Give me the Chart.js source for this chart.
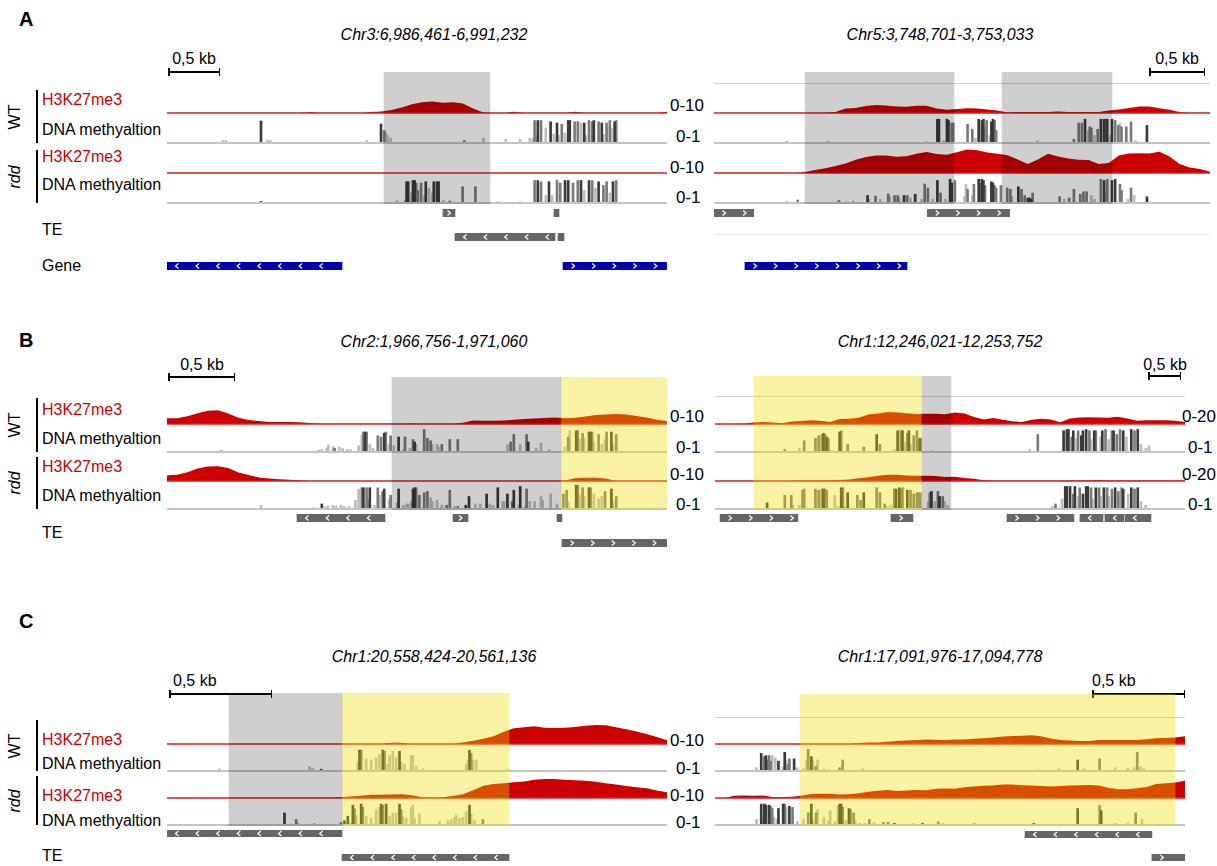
<!DOCTYPE html>
<html>
<head>
<meta charset="utf-8">
<script src="https://cdn.jsdelivr.net/npm/chart.js"></script>
<style>
  body { margin: 0; width: 1217px; height: 866px; position: relative; background: #fff; overflow: hidden;
         font-family: "Liberation Sans", Arial, sans-serif; }
  .t { position: absolute; white-space: nowrap; line-height: 1; font-size: 16px; color: #000; }
  .ln { position: absolute; background: #000; }
</style>
</head>
<body>
<script>
// ------------------------------------------------
// Data: windows, H3K27me3 signal, DNA methylation bars, TE / gene features
// Signals are sampled evenly across each window (0-10 or 0-20 scale).
// Bar and feature positions are in 1/250 steps of the window.
// Methylation bars: [position, level 0-1, context shade D/M/L]
// ------------------------------------------------
const CELLS = 250;

const A1_WINDOW = ['Chr3', 6986461, 6991232];
const A2_WINDOW = ['Chr5', 3748701, 3753033];
const B1_WINDOW = ['Chr2', 1966756, 1971060];
const B2_WINDOW = ['Chr1', 12246021, 12253752];
const C1_WINDOW = ['Chr1', 20558424, 20561136];
const C2_WINDOW = ['Chr1', 17091976, 17094778];

const A1_H3_WT  = [0,0,0,0,0,0,0,0,0,0, 0,0,0,0,0.3,0,0,0,0,0, 0.3,0.5,1.0,1.8,2.9,3.6,3.8,3.4,3.6,3.2, 1.5,0.2,0,0,0.4,0,0,0,0,0, 0.4,0,0,0,0,0,0,0,0,0.4];
const A1_H3_RDD = [0,0,0,0,0,0,0,0,0,0, 0,0,0,0,0,0,0,0,0,0, 0,0,0,0,0,0,0,0,0,0, 0,0,0,0,0,0,0,0,0,0, 0,0,0,0,0,0,0,0,0,0];
const A2_H3_WT  = [0,0,0,0,0,0,0,0,0,0, 0,0.1,0.3,1.5,1.7,2.3,2.7,2.5,2.2,2.1, 2.4,2.4,1.5,1.1,1.3,1.6,1.5,1.2,0.8,0.2, 0.3,0.3,0.3,0.3,0.5,0.3,0.3,0.3,0.3,0.8, 1.2,1.7,2.2,2.2,1.6,1.1,0.3,0,0,0];
const A2_H3_RDD = [0,0,0,0,0,0,0,0,0,0.3, 1.0,1.6,2.3,3.2,4.4,5.3,5.8,5.8,5.4,5.6, 6.4,7.0,6.3,6.1,6.9,7.8,7.6,6.8,6.4,5.9, 4.5,3.0,4.5,6.4,5.5,4.8,4.4,4.3,3.0,3.3, 5.8,6.5,6.6,6.5,7.1,5.5,3.0,1.8,1.3,0.4];
const B1_H3_WT  = [1.9,1.9,2.6,3.6,4.4,4.6,3.5,2.1,1.3,1.0, 0.7,0.7,0.7,0.6,0.3,0.1,0.1,0.1,0.1,0.1, 0.1,0.1,0.1,0.1,0.2,0.1,0.1,0.1,0.1,0.4, 1.2,1.1,1.1,1.2,1.4,1.7,1.8,2.0,2.2,1.9, 2.1,2.5,3.0,3.2,3.3,3.2,2.7,2.2,1.4,1.0];
const B1_H3_RDD = [1.9,2.1,2.9,4.2,4.8,4.9,4.3,2.8,2.0,1.2, 0.8,0.6,0.4,0.2,0,0,0,0,0,0, 0,0,0,0,0,0,0,0,0,0, 0,0,0,0,0,0,0,0,0,0.2, 0.9,1.1,1.1,0.8,0,0,0,0,0,0];
const B2_H3_WT  = [0,0,0,0.2,1.0,1.5,1.0,0.6,1.8,2.2, 2.7,2.4,1.4,3.5,3.8,4.5,6.8,7.5,8.5,8.3, 7.7,7.1,7.4,7.3,6.9,8.2,7.5,5.0,3.3,4.2, 3.0,2.0,1.5,3.1,3.8,3.3,1.2,4.0,4.6,4.9, 4.6,4.4,5.2,4.0,2.4,2.6,2.7,2.7,2.3,1.5];
const B2_H3_RDD = [0,0,0,0,0,0,0,0,0,0.4, 0.3,0.1,0.6,0.7,1.0,2.0,2.7,3.8,4.4,4.4, 4.0,3.8,3.8,3.5,2.9,3.0,2.2,1.6,0.5,0.2, 0.2,0.2,0.2,0.2,0.2,0.2,0.2,0.4,0.4,0.5, 0.8,0.3,0.3,0.3,0.3,0.3,0.3,0.3,0.3,0.3];
const C1_H3_WT  = [0,0,0,0,0,0,0,0,0,0, 0,0,0,0,0,0,0,0,0,0, 0,0,0.5,0.5,0,0,0,0,0,0.6, 1.2,1.9,2.9,4.5,5.8,6.2,6.6,6.0,5.9,6.0, 6.3,6.8,7.0,6.9,6.2,5.5,4.6,3.7,2.6,1.4];
const C1_H3_RDD = [0,0,0,0,0,0,0,0,0,0, 0,0,0,0,0,0,0,0.3,0.6,0.8, 1.2,1.2,1.3,1.4,1.0,0.3,0.1,0.3,0.7,1.4, 2.9,4.5,5.2,5.5,5.8,6.1,6.8,7.0,7.0,6.8, 6.6,6.4,6.0,5.5,5.0,4.4,4.0,3.6,2.8,2.1];
const C2_H3_WT  = [0,0,0,0,0,0,0,0,0,0, 0,0,0,0,0,0.4,0.6,0.6,0.8,1.1, 1.3,1.5,1.7,1.6,1.5,1.7,1.7,1.9,2.1,2.4, 2.8,3.0,3.1,3.2,2.9,2.0,1.5,1.3,1.1,1.1, 1.5,1.5,1.5,1.5,1.5,1.8,2.1,2.2,2.4,2.9];
const C2_H3_RDD = [0,0,0.8,0.9,0.8,0.9,0.4,0.4,0.5,0.8, 1.5,1.6,1.6,1.3,1.4,1.8,2.3,2.7,3.0,2.6, 2.8,3.0,2.9,3.4,3.5,3.4,4.0,4.3,4.5,4.6, 5.0,5.0,4.7,4.6,4.4,4.3,4.4,4.6,4.7,4.8, 4.6,3.8,3.2,3.2,3.6,4.1,5.2,5.5,5.7,6.4];

const A1_ME_WT = [[3,0.1,'L'],[5,0.1,'L'],[27,0.88,'D'],[31,0.12,'L'],[33,0.1,'L'],[93,0.1,'L'],
  [102,0.76,'D'],[104,0.5,'M'],[105,0.4,'L'],[106,0.3,'L'],[108,0.2,'L'],
  [154,0.1,'M'],[166,0.2,'L'],[180,0.15,'L'],[189,0.15,'L'],[195,0.2,'L'],[197,0.2,'L'],
  [198,0.9,'M'],[199,0.3,'L'],[200,0.9,'D'],[202,0.9,'M'],[205,0.6,'L'],[208,0.85,'D'],[210,0.35,'L'],[212,0.8,'D'],
  [213,0.3,'L'],[215,0.75,'M'],[217,0.4,'L'],[219,0.9,'D'],[220,0.9,'D'],[223,0.85,'M'],[225,0.85,'M'],[227,0.8,'L'],
  [229,0.8,'D'],[230,0.3,'L'],[232,0.9,'M'],[234,0.85,'M'],[235,0.9,'D'],[238,0.85,'M'],[240,0.8,'D'],[241,0.35,'L'],
  [243,0.8,'M'],[245,0.9,'M'],[246,0.6,'L'],[248,0.85,'D'],[249,0.9,'M']];
const A1_ME_RDD = [[27,0.06,'D'],[112,0.1,'L'],[117,0.12,'L'],[118,0.85,'D'],[119,0.85,'D'],[121,0.4,'L'],[122,0.9,'D'],
  [123,0.9,'D'],[124,0.8,'M'],[125,0.5,'M'],[127,0.8,'M'],[129,0.3,'L'],[130,0.85,'D'],[132,0.6,'L'],[134,0.4,'L'],
  [135,0.85,'D'],[137,0.85,'D'],[138,0.85,'D'],[141,0.1,'L'],[145,0.08,'M'],[153,0.65,'M'],[161,0.65,'M'],[175,0.06,'L'],
  [189,0.05,'L'],[198,0.9,'M'],[200,0.9,'D'],[202,0.85,'M'],[205,0.3,'L'],[207,0.85,'D'],[209,0.3,'L'],[212,0.9,'M'],
  [214,0.8,'M'],[217,0.9,'D'],[219,0.9,'D'],[222,0.8,'M'],[225,0.9,'M'],[227,0.9,'D'],[229,0.5,'L'],[232,0.9,'D'],
  [234,0.9,'M'],[236,0.6,'L'],[238,0.85,'D'],[241,0.7,'M'],[243,0.85,'M'],[245,0.4,'L'],[247,0.85,'D'],[249,0.9,'M']];
const A2_ME_WT = [[14,0.05,'M'],[40,0.05,'M'],[102,0.05,'L'],[109,0.95,'D'],[110,0.95,'D'],[113,0.1,'L'],[115,0.95,'D'],
  [116,0.9,'D'],[118,0.8,'M'],[119,0.8,'M'],[128,0.75,'M'],[131,0.55,'M'],[133,0.2,'L'],[135,0.95,'D'],[137,0.9,'D'],
  [138,0.95,'D'],[139,0.6,'L'],[140,0.9,'M'],[142,0.3,'L'],[143,0.85,'D'],[144,0.95,'D'],[145,0.9,'M'],[146,0.5,'M'],
  [172,0.08,'L'],[195,0.15,'M'],[198,0.8,'M'],[200,0.8,'M'],[202,0.95,'D'],[204,0.5,'L'],[205,0.65,'M'],[206,0.6,'M'],
  [208,0.3,'L'],[210,0.55,'M'],[212,0.95,'D'],[214,0.95,'D'],[215,0.95,'M'],[216,0.95,'D'],[218,0.3,'L'],[219,0.95,'D'],
  [221,0.9,'M'],[223,0.7,'M'],[224,0.8,'L'],[225,0.65,'M'],[228,0.65,'M'],[231,0.85,'M'],[234,0.1,'L'],[241,0.7,'D']];
const A2_ME_RDD = [[14,0.05,'M'],[21,0.12,'M'],[47,0.1,'M'],[52,0.05,'L'],[56,0.08,'L'],[65,0.3,'D'],[66,0.15,'L'],
  [70,0.28,'M'],[73,0.15,'L'],[78,0.36,'M'],[79,0.25,'L'],[82,0.3,'M'],[84,0.3,'M'],[85,0.2,'L'],[88,0.3,'D'],[90,0.3,'M'],
  [92,0.2,'L'],[95,0.35,'D'],[99,0.15,'L'],[101,0.76,'M'],[103,0.6,'M'],[106,0.15,'L'],[109,0.9,'D'],[111,0.4,'M'],
  [114,0.15,'L'],[117,0.95,'D'],[118,0.8,'D'],[120,0.9,'M'],[126,0.25,'L'],[127,0.75,'L'],[128,0.55,'M'],[131,0.3,'L'],
  [132,0.75,'M'],[135,0.95,'D'],[136,0.8,'M'],[137,0.95,'D'],[138,0.9,'D'],[139,0.7,'M'],[143,0.85,'D'],[144,0.8,'D'],
  [145,0.7,'M'],[146,0.6,'M'],[149,0.7,'M'],[153,0.6,'M'],[155,0.55,'M'],[156,0.25,'L'],[160,0.65,'D'],[162,0.55,'M'],
  [164,0.3,'M'],[166,0.2,'D'],[167,0.2,'D'],[168,0.15,'D'],[169,0.4,'M'],[186,0.25,'M'],[189,0.15,'L'],[192,0.2,'M'],
  [195,0.55,'M'],[199,0.35,'M'],[201,0.45,'M'],[203,0.45,'M'],[206,0.3,'L'],[208,0.15,'L'],[212,0.95,'M'],[214,0.9,'D'],
  [215,0.4,'L'],[216,0.95,'M'],[219,0.9,'D'],[221,0.95,'D'],[224,0.75,'M'],[225,0.5,'M'],[229,0.15,'L'],[231,0.6,'M'],
  [233,0.3,'L'],[241,0.25,'D']];
const B1_ME_WT = [[2,0.07,'L'],[63,0.05,'M'],[65,0.1,'L'],[68,0.15,'L'],[69,0.28,'L'],[72,0.2,'L'],[73,0.15,'M'],[76,0.2,'L'],
  [78,0.15,'L'],[81,0.1,'L'],[83,0.1,'L'],[88,0.25,'L'],[90,0.68,'L'],[91,0.8,'M'],[92,0.8,'D'],[93,0.8,'M'],[95,0.3,'L'],
  [97,0.15,'L'],[100,0.65,'M'],[102,0.6,'M'],[104,0.75,'D'],[105,0.8,'M'],[107,0.3,'L'],[108,0.65,'M'],[110,0.25,'L'],
  [113,0.6,'D'],[116,0.1,'L'],[117,0.6,'M'],[120,0.15,'L'],[122,0.5,'M'],[123,0.4,'D'],[124,0.3,'L'],[129,0.9,'M'],
  [131,0.55,'M'],[133,0.45,'M'],[134,0.3,'L'],[137,0.3,'L'],[138,0.2,'L'],[140,0.3,'M'],[145,0.5,'M'],[150,0.5,'M'],
  [181,0.3,'L'],[183,0.4,'M'],[185,0.7,'M'],[189,0.3,'L'],[193,0.7,'M'],[194,0.4,'D'],[199,0.15,'L'],[202,0.35,'L'],
  [207,0.1,'L'],[217,0.2,'L'],[219,0.6,'M'],[220,0.85,'L'],[224,0.85,'D'],[225,0.85,'M'],[226,0.5,'L'],[228,0.75,'M'],
  [229,0.55,'L'],[232,0.8,'D'],[233,0.8,'D'],[234,0.8,'M'],[235,0.4,'L'],[238,0.7,'M'],[240,0.3,'L'],[242,0.5,'L'],
  [243,0.8,'M'],[246,0.8,'D'],[247,0.3,'L'],[249,0.7,'M']];
const B1_ME_RDD = [[27,0.15,'L'],[60,0.05,'L'],[65,0.2,'D'],[67,0.1,'L'],[69,0.12,'L'],[72,0.15,'L'],[74,0.12,'L'],[77,0.15,'L'],
  [79,0.1,'L'],[82,0.1,'L'],[86,0.35,'L'],[88,0.8,'L'],[90,0.85,'M'],[91,0.85,'D'],[93,0.85,'M'],[94,0.4,'L'],[95,0.85,'D'],
  [98,0.15,'L'],[100,0.85,'M'],[101,0.55,'L'],[103,0.7,'M'],[104,0.8,'D'],[107,0.4,'L'],[108,0.55,'M'],[112,0.25,'L'],
  [113,0.8,'D'],[116,0.15,'L'],[118,0.2,'L'],[119,0.2,'L'],[121,0.3,'L'],[122,0.8,'D'],[123,0.85,'D'],[124,0.85,'M'],
  [126,0.55,'M'],[129,0.65,'M'],[131,0.7,'M'],[133,0.45,'L'],[134,0.3,'L'],[137,0.35,'L'],[140,0.15,'L'],[143,0.15,'M'],
  [145,0.75,'M'],[148,0.1,'L'],[150,0.1,'M'],[155,0.15,'D'],[157,0.5,'D'],[161,0.2,'L'],[164,0.2,'L'],[168,0.6,'D'],
  [170,0.2,'L'],[172,0.15,'L'],[175,0.85,'D'],[178,0.3,'L'],[179,0.3,'L'],[181,0.6,'D'],[184,0.3,'M'],[185,0.75,'D'],
  [188,0.15,'L'],[189,0.9,'D'],[192,0.1,'L'],[193,0.8,'M'],[195,0.3,'L'],[198,0.3,'L'],[202,0.5,'L'],[203,0.35,'L'],
  [208,0.6,'L'],[212,0.2,'L'],[216,0.6,'M'],[218,0.75,'M'],[219,0.3,'L'],[224,0.95,'D'],[225,0.95,'M'],[226,0.55,'L'],
  [228,0.85,'M'],[229,0.5,'L'],[232,0.85,'D'],[233,0.85,'M'],[235,0.6,'L'],[238,0.4,'L'],[240,0.5,'L'],[242,0.7,'M'],
  [246,0.8,'D'],[247,0.3,'L'],[249,0.5,'M']];
const B2_ME_WT = [[22,0.1,'M'],[31,0.15,'L'],[34,0.45,'M'],[41,0.55,'M'],[43,0.65,'M'],[45,0.7,'M'],[46,0.75,'D'],[47,0.7,'M'],
  [48,0.6,'D'],[49,0.55,'M'],[51,0.05,'L'],[56,0.8,'D'],[57,0.85,'M'],[61,0.3,'M'],[71,0.2,'M'],[79,0.7,'D'],[81,0.3,'M'],
  [90,0.1,'L'],[92,0.85,'D'],[94,0.85,'M'],[95,0.85,'D'],[96,0.3,'L'],[97,0.4,'L'],[98,0.75,'M'],[99,0.85,'D'],[100,0.3,'L'],
  [102,0.65,'M'],[104,0.85,'M'],[105,0.5,'M'],[106,0.55,'D'],[113,0.05,'L'],[174,0.1,'L'],[179,0.7,'M'],[195,0.85,'D'],
  [197,0.9,'D'],[198,0.9,'D'],[200,0.6,'M'],[201,0.85,'D'],[203,0.55,'L'],[204,0.85,'M'],[206,0.65,'D'],[207,0.85,'D'],
  [209,0.9,'D'],[211,0.85,'M'],[212,0.5,'L'],[214,0.85,'D'],[215,0.85,'M'],[218,0.6,'L'],[219,0.85,'D'],[221,0.9,'M'],
  [223,0.5,'L'],[225,0.85,'M'],[226,0.85,'D'],[228,0.7,'M'],[230,0.9,'M'],[232,0.85,'D'],[234,0.6,'L'],[237,0.9,'D'],
  [239,0.85,'M'],[241,0.9,'D'],[243,0.3,'L'],[246,0.15,'L'],[248,0.25,'L']];
const B2_ME_RDD = [[11,0.25,'D'],[22,0.55,'M'],[26,0.55,'M'],[27,0.15,'L'],[31,0.15,'L'],[33,0.75,'M'],[34,0.8,'M'],[41,0.8,'M'],
  [43,0.75,'M'],[45,0.8,'M'],[46,0.8,'D'],[47,0.8,'M'],[48,0.75,'M'],[53,0.55,'L'],[55,0.1,'L'],[57,0.85,'D'],[58,0.85,'M'],
  [59,0.1,'L'],[61,0.65,'D'],[67,0.55,'M'],[69,0.35,'M'],[71,0.65,'D'],[79,0.85,'M'],[81,0.65,'M'],[84,0.2,'M'],[86,0.1,'L'],
  [88,0.15,'L'],[90,0.8,'M'],[91,0.8,'D'],[93,0.85,'D'],[94,0.8,'M'],[95,0.85,'M'],[98,0.75,'D'],[100,0.75,'M'],[102,0.6,'M'],
  [104,0.65,'M'],[105,0.65,'M'],[106,0.65,'M'],[111,0.3,'L'],[112,0.65,'M'],[113,0.7,'D'],[115,0.3,'L'],[117,0.7,'M'],
  [118,0.5,'D'],[120,0.5,'M'],[121,0.3,'L'],[123,0.15,'L'],[188,0.1,'L'],[190,0.2,'M'],[194,0.4,'L'],[196,0.9,'D'],
  [197,0.9,'D'],[199,0.9,'D'],[201,0.6,'M'],[202,0.9,'D'],[204,0.5,'L'],[205,0.85,'M'],[207,0.6,'D'],[209,0.9,'D'],
  [210,0.9,'D'],[212,0.85,'M'],[213,0.4,'L'],[215,0.85,'D'],[217,0.85,'M'],[218,0.5,'L'],[220,0.85,'D'],[222,0.85,'M'],
  [223,0.5,'L'],[225,0.8,'M'],[227,0.85,'D'],[229,0.7,'M'],[231,0.85,'M'],[232,0.8,'D'],[235,0.6,'L'],[237,0.85,'D'],
  [239,0.8,'M'],[241,0.85,'D'],[243,0.3,'L'],[246,0.15,'L']];
const C1_ME_WT = [[6,0.1,'L'],[60,0.2,'L'],[62,0.12,'L'],[67,0.08,'D'],[89,0.4,'L'],[90,0.95,'D'],[91,0.95,'M'],[94,0.55,'L'],
  [97,0.5,'L'],[100,0.6,'L'],[102,0.75,'L'],[104,0.95,'D'],[105,0.9,'M'],[107,0.3,'L'],[108,0.7,'L'],[110,0.9,'L'],
  [112,0.6,'L'],[114,0.9,'D'],[115,0.4,'L'],[117,0.3,'L'],[121,0.7,'L'],[122,0.7,'L'],[124,0.2,'L'],[128,0.1,'L'],
  [154,0.3,'L'],[155,0.5,'L'],[156,0.95,'D'],[157,0.8,'M'],[158,0.5,'L'],[160,0.5,'L'],[179,0.05,'M']];
const C1_ME_RDD = [[45,0.55,'D'],[52,0.25,'M'],[53,0.1,'L'],[63,0.05,'M'],[78,0.05,'L'],[79,0.12,'M'],[81,0.2,'D'],[83,0.4,'D'],
  [85,0.1,'L'],[86,0.9,'D'],[87,0.75,'M'],[88,0.45,'L'],[91,0.95,'D'],[92,0.8,'M'],[94,0.4,'L'],[97,0.3,'L'],[100,0.7,'L'],
  [102,0.8,'L'],[103,0.95,'D'],[104,0.9,'M'],[106,0.95,'D'],[108,0.4,'L'],[110,0.55,'L'],[112,0.55,'L'],[114,0.95,'D'],
  [115,0.7,'M'],[116,0.4,'L'],[118,0.3,'L'],[121,0.8,'L'],[122,0.9,'L'],[123,0.3,'L'],[126,0.5,'L'],[138,0.15,'L'],
  [143,0.2,'L'],[145,0.25,'L'],[147,0.35,'L'],[148,0.45,'L'],[150,0.3,'L'],[152,0.35,'L'],[154,0.6,'L'],[156,0.9,'D'],
  [157,0.5,'L'],[159,0.2,'L'],[164,0.25,'M'],[175,0.03,'M']];
const C2_ME_WT = [[1,0.15,'L'],[4,0.8,'D'],[5,0.15,'L'],[6,0.65,'M'],[7,0.7,'D'],[8,0.5,'M'],[9,0.7,'M'],[10,0.45,'M'],
  [11,0.7,'L'],[13,0.6,'L'],[15,0.45,'D'],[18,0.2,'L'],[19,0.85,'D'],[20,0.5,'L'],[21,0.3,'M'],[22,0.55,'M'],[25,0.55,'D'],
  [27,0.15,'L'],[31,0.1,'L'],[33,0.5,'L'],[34,1.0,'M'],[36,0.65,'D'],[37,0.5,'L'],[38,0.2,'L'],[39,0.2,'M'],[40,0.5,'L'],
  [44,0.08,'L'],[47,0.05,'L'],[54,0.15,'M'],[56,0.5,'M'],[69,0.1,'L'],[181,0.05,'L'],[194,0.1,'L'],[206,0.5,'D'],
  [210,0.1,'L'],[220,0.55,'M'],[230,0.15,'L'],[238,0.12,'L'],[242,0.15,'L'],[244,0.85,'M'],[246,0.2,'L'],[248,0.1,'L']];
const C2_ME_RDD = [[1,0.25,'L'],[4,0.95,'D'],[5,0.3,'L'],[6,0.95,'D'],[7,0.9,'D'],[9,0.9,'D'],[10,0.85,'M'],[11,0.75,'M'],
  [12,0.35,'L'],[14,0.25,'L'],[15,0.75,'D'],[18,0.95,'D'],[19,0.95,'M'],[20,0.8,'L'],[22,0.85,'D'],[24,0.8,'M'],[27,0.15,'L'],
  [31,0.25,'L'],[34,0.55,'M'],[36,0.95,'D'],[37,0.2,'L'],[39,0.55,'M'],[40,0.7,'L'],[44,0.35,'L'],[47,0.2,'L'],[48,0.65,'L'],
  [51,0.15,'L'],[53,0.85,'L'],[54,0.95,'D'],[55,0.95,'D'],[56,0.8,'M'],[58,0.2,'L'],[60,0.75,'D'],[61,0.7,'M'],[63,0.55,'M'],
  [64,0.2,'L'],[67,0.08,'L'],[70,0.08,'L'],[73,0.25,'M'],[76,0.12,'L'],[82,0.12,'M'],[85,0.12,'M'],[89,0.08,'D'],
  [101,0.05,'M'],[107,0.08,'D'],[117,0.15,'M'],[120,0.08,'L'],[140,0.05,'D'],[178,0.08,'D'],[206,0.75,'D'],[220,0.9,'M'],
  [221,0.65,'D'],[230,0.08,'L'],[238,0.08,'L'],[243,0.55,'M'],[247,0.25,'L']];

// features: [start, end, strand]
const A1_TE1  = [[138,144,'>'],[193.5,196,'']];
const A1_TE2  = [[144,194,'<'],[195.5,198.5,'']];
const A1_GENE = [[0,87.5,'<'],[198,250,'>']];
const A2_TE1  = [[0,20,'>'],[107.5,149,'>']];
const A2_GENE = [[15.6,97.3,'>']];
const B1_TE1  = [[65,109,'<'],[143,150.5,'>'],[195,197.5,'']];
const B1_TE2  = [[197.5,250,'>']];
const B2_TE1  = [[2.7,44.1,'>'],[93.6,105.3,'>'],[155.3,190.9,'>'],[194.1,206.4,'<'],[207.4,217.5,'<'],[218.1,231.9,'<']];
const C1_TE1  = [[0,87.5,'<']];
const C1_TE2  = [[87.5,171,'<']];
const C2_TE1  = [[164.9,232.4,'<']];
const C2_TE2  = [[232.4,250,'>']];

// highlighted regions: [start, end, kind]
const A1_SHADE = [[108.5,161.5,'gray']];
const A2_SHADE = [[45.9,121,'gray'],[145.2,200.6,'gray']];
const B1_SHADE = [[112.5,197,'gray'],[197,250,'yellow']];
const B2_SHADE = [[20.7,109.6,'yellow'],[110.1,125.5,'gray']];
const C1_SHADE = [[31,87.5,'gray'],[87.5,171,'yellow']];
const C2_SHADE = [[45.2,244.7,'yellow']];

// ------------------------------------------------
// Plugins
// ------------------------------------------------
const trackLines = {
    id: 'trackLines',
    afterDatasetsDraw(chart, args, opts) {
        const { ctx, chartArea } = chart;
        ctx.save();
        if (opts.top) {
            ctx.strokeStyle = opts.top; ctx.lineWidth = 1;
            ctx.beginPath(); ctx.moveTo(chartArea.left, chartArea.top + 0.5); ctx.lineTo(chartArea.right, chartArea.top + 0.5); ctx.stroke();
        }
        if (opts.base) {
            const py = chart.scales.y.getPixelForValue(0);
            ctx.strokeStyle = opts.base; ctx.lineWidth = opts.baseWidth || 1;
            ctx.beginPath(); ctx.moveTo(chartArea.left, py); ctx.lineTo(chartArea.right, py); ctx.stroke();
        }
        ctx.restore();
    }
};

const chevrons = {
    id: 'chevrons',
    afterDatasetsDraw(chart) {
        const ctx = chart.ctx;
        chart.data.datasets.forEach((ds, i) => {
            if (!ds.strand) return;
            const el = chart.getDatasetMeta(i).data[0];
            const x0 = Math.min(el.x, el.base), x1 = Math.max(el.x, el.base);
            const d = ds.strand === '>' ? 1 : -1;
            const xs = [];
            if (x1 - x0 < 18) xs.push((x0 + x1) / 2);
            else for (let x = x0 + 10; x < x1 - 4; x += 20.6) xs.push(x);
            ctx.save();
            ctx.strokeStyle = '#fff'; ctx.lineWidth = 1.2;
            xs.forEach(x => {
                ctx.beginPath();
                ctx.moveTo(x - 1.5 * d, el.y - 2.5);
                ctx.lineTo(x + 1.5 * d, el.y);
                ctx.lineTo(x - 1.5 * d, el.y + 2.5);
                ctx.stroke();
            });
            ctx.restore();
        });
    }
};
Chart.register(trackLines, chevrons);

// ------------------------------------------------
// Helpers
// ------------------------------------------------
function addCanvas(left, top, w, h, z) {
    const c = document.createElement('canvas');
    c.width = w; c.height = h;
    c.style.cssText = `position:absolute;left:${left}px;top:${top}px;width:${w}px;height:${h}px;z-index:${z || 1}`;
    document.body.appendChild(c);
    return c;
}

function addText(txt, x, y, css, align) {
    const d = document.createElement('div');
    d.className = 't';
    d.textContent = txt;
    const tx = align === 'center' ? '-50%' : (align === 'right' ? '-100%' : '0');
    d.style.cssText = `left:${x}px;top:${y}px;transform:translate(${tx},-50%);` + (css || '');
    document.body.appendChild(d);
    return d;
}

function addLine(x, y, w, h, color) {
    const d = document.createElement('div');
    d.className = 'ln';
    d.style.cssText = `left:${x}px;top:${y}px;width:${w}px;height:${h}px;` + (color ? `background:${color};` : '');
    document.body.appendChild(d);
}

const pos = (win, cell) => win[1] + cell * (win[2] - win[1]) / CELLS;

function baseOptions(win, yMax, lines) {
    return {
        responsive: false, animation: false, events: [],
        layout: { padding: 0 },
        plugins: { legend: { display: false }, tooltip: { enabled: false }, trackLines: lines || {} },
        scales: {
            x: { type: 'linear', min: win[1], max: win[2], display: false },
            y: { min: 0, max: yMax, display: false }
        }
    };
}

function signalTrack(p, top, h, values, topLine) {
    const win = p.win, len = win[2] - win[1];
    const c = addCanvas(p.left, top, p.width, h + 2);
    const opts = baseOptions(win, p.h3Max, { base: '#dc1c1c', baseWidth: 1.6, top: topLine ? '#d2d2d2' : null });
    opts.layout.padding = { bottom: 2 };
    new Chart(c, {
        type: 'line',
        data: { datasets: [{
            data: values.map((v, i) => ({ x: win[1] + i * len / (values.length - 1), y: v })),
            fill: 'origin', backgroundColor: '#cc0000', borderWidth: 0, pointRadius: 0, tension: 0
        }] },
        options: opts
    });
}

function methTrack(p, top, h, bars) {
    const shades = { D: '#3a3a3a', M: '#7a7a7a', L: '#bdbdbd' };
    const c = addCanvas(p.left, top, p.width, h + 2);
    const opts = baseOptions(p.win, 1, { base: '#c4c4c4', baseWidth: 2 });
    opts.layout.padding = { bottom: 2 };
    new Chart(c, {
        type: 'bar',
        data: { datasets: ['D', 'M', 'L'].map(s => ({
            data: bars.filter(b => b[2] === s).map(b => ({ x: pos(p.win, b[0] + 0.5), y: b[1] })),
            backgroundColor: shades[s], barThickness: 2, grouped: false
        })) },
        options: opts
    });
}

function featureTrack(p, top, h, feats, color) {
    const c = addCanvas(p.left, top, p.width, h);
    const opts = baseOptions(p.win, 1);
    opts.indexAxis = 'y';
    opts.scales.y = { display: false };
    new Chart(c, {
        type: 'bar',
        data: { labels: ['row'], datasets: feats.map(f => ({
            data: [[pos(p.win, f[0]), pos(p.win, f[1])]],
            strand: f[2], backgroundColor: color,
            barPercentage: 1, categoryPercentage: 1, grouped: false
        })) },
        options: opts
    });
}

function shadeTrack(p, top, bottom, regions) {
    const fills = { gray: 'rgba(0,0,0,0.19)', yellow: 'rgba(240,220,0,0.36)' };
    const c = addCanvas(p.left, top, p.width, bottom - top, 5);
    const opts = baseOptions(p.win, 1);
    opts.indexAxis = 'y';
    opts.scales.y = { display: false };
    new Chart(c, {
        type: 'bar',
        data: { labels: ['hl'], datasets: regions.map(r => ({
            data: [[pos(p.win, r[0]), pos(p.win, r[1])]],
            backgroundColor: fills[r[2]], barPercentage: 1, categoryPercentage: 1, grouped: false
        })) },
        options: opts
    });
}

function scaleBar(x0, x1, y, tx, ty, align) {
    addLine(x0, y - 1, x1 - x0, 1.5);
    addLine(x0, y - 4, 1.5, 8);
    addLine(x1 - 1.5, y - 4, 1.5, 8);
    addText('0,5 kb', tx, ty, '', align);
}

// ------------------------------------------------
// Panels (layout only)
// ------------------------------------------------
const PANELS = [
    { win: A1_WINDOW, left: 167, width: 500, h3Max: 10, h3H: 30, meH: 25, rows: [83, 118, 143, 178], topLine: false,
      h3: [A1_H3_WT, A1_H3_RDD], me: [A1_ME_WT, A1_ME_RDD], featH: 8,
      feats: [[209, A1_TE1, '#666666'], [233, A1_TE2, '#666666'], [262, A1_GENE, '#0000b0']],
      shade: [72, 204, A1_SHADE], titleX: 434, titleY: 35,
      scale: [168, 220, 72, 194, 59, 'center'], ylab: [670, [105, 136, 167, 197]] },
    { win: A2_WINDOW, left: 714, width: 496, h3Max: 10, h3H: 30, meH: 25, rows: [83, 118, 143, 178], topLine: true,
      h3: [A2_H3_WT, A2_H3_RDD], me: [A2_ME_WT, A2_ME_RDD], featH: 8,
      feats: [[209, A2_TE1, '#666666'], [262, A2_GENE, '#0000b0']], sep: 234,
      shade: [72, 204, A2_SHADE], titleX: 940, titleY: 35,
      scale: [1149, 1205, 72, 1177, 59, 'center'] },
    { win: B1_WINDOW, left: 167, width: 500, h3Max: 10, h3H: 30, meH: 25, rows: [394, 427, 451, 484], topLine: false,
      h3: [B1_H3_WT, B1_H3_RDD], me: [B1_ME_WT, B1_ME_RDD], featH: 8,
      feats: [[514, B1_TE1, '#666666'], [539, B1_TE2, '#666666']],
      shade: [377, 510, B1_SHADE], titleX: 434, titleY: 342,
      scale: [168, 235, 377, 202, 365, 'center'], ylab: [670, [416, 447, 474, 504]] },
    { win: B2_WINDOW, left: 715, width: 470, h3Max: 20, h3H: 28, meH: 25, rows: [396, 427, 453, 484], topLine: true,
      h3: [B2_H3_WT, B2_H3_RDD], me: [B2_ME_WT, B2_ME_RDD], featH: 8,
      feats: [[514, B2_TE1, '#666666']],
      shade: [376, 510, B2_SHADE], titleX: 940, titleY: 342,
      scale: [1148, 1181, 376, 1165, 365, 'center'], ylab: [1182, [416, 447, 474, 504]] },
    { win: C1_WINDOW, left: 167, width: 500, h3Max: 10, h3H: 27, meH: 22, rows: [717, 749, 771, 803], topLine: false,
      h3: [C1_H3_WT, C1_H3_RDD], me: [C1_ME_WT, C1_ME_RDD], featH: 7,
      feats: [[830, C1_TE1, '#666666'], [854, C1_TE2, '#666666']],
      shade: [693, 826, C1_SHADE], titleX: 434, titleY: 657,
      scale: [169, 272, 694, 173, 681, 'left'], ylab: [670, [740, 768, 795, 822]] },
    { win: C2_WINDOW, left: 715, width: 470, h3Max: 10, h3H: 27, meH: 22, rows: [717, 749, 771, 803], topLine: true,
      h3: [C2_H3_WT, C2_H3_RDD], me: [C2_ME_WT, C2_ME_RDD], featH: 7,
      feats: [[831, C2_TE1, '#666666'], [854, C2_TE2, '#666666']],
      shade: [694, 826, C2_SHADE], titleX: 940, titleY: 657,
      scale: [1092, 1185, 694, 1092, 681, 'left'] }
];

PANELS.forEach(p => {
    signalTrack(p, p.rows[0], p.h3H, p.h3[0], p.topLine);
    methTrack(p, p.rows[1], p.meH, p.me[0]);
    signalTrack(p, p.rows[2], p.h3H, p.h3[1], false);
    methTrack(p, p.rows[3], p.meH, p.me[1]);
    p.feats.forEach(f => featureTrack(p, f[0], p.featH, f[1], f[2]));
    if (p.sep) addLine(p.left, p.sep, p.width, 1, '#e6e6e6');
    shadeTrack(p, p.shade[0], p.shade[1], p.shade[2]);

    const fmt = n => n.toLocaleString('en-US');
    addText(`${p.win[0]}:${fmt(p.win[1])}-${fmt(p.win[2])}`, p.titleX, p.titleY, 'font-style:italic;', 'center');
    const s = p.scale;
    scaleBar(s[0], s[1], s[2], s[3], s[4], s[5]);
    if (p.ylab) {
        const labs = [`0-${p.h3Max}`, '0-1', `0-${p.h3Max}`, '0-1'];
        labs.forEach((t, i) => addText(t, p.ylab[0] + (i % 2 ? 6 : 0), p.ylab[1][i], 'font-size:17px;'));
    }
});

// ------------------------------------------------
// Row labels on the left
// ------------------------------------------------
const SECTIONS = [
    { letter: 'A', letterY: 19, wt: [90, 143], rdd: [150, 203], labs: [100, 130, 157, 185], te: 230, gene: 266 },
    { letter: 'B', letterY: 340, wt: [398, 452], rdd: [457, 509], labs: [410, 439, 467, 496], te: 533 },
    { letter: 'C', letterY: 621, wt: [720, 771], rdd: [776, 825], labs: [740, 764, 796, 821], te: 856 }
];
SECTIONS.forEach(s => {
    addText(s.letter, 19, s.letterY, 'font-weight:bold;font-size:20px;');
    addLine(36, s.wt[0], 1.5, s.wt[1] - s.wt[0]);
    addLine(36, s.rdd[0], 1.5, s.rdd[1] - s.rdd[0]);
    addText('WT', 15, (s.wt[0] + s.wt[1]) / 2, 'transform:translate(-50%,-50%) rotate(-90deg);', 'center');
    addText('rdd', 15, (s.rdd[0] + s.rdd[1]) / 2, 'font-style:italic;transform:translate(-50%,-50%) rotate(-90deg);', 'center');
    ['H3K27me3', 'DNA methyaltion', 'H3K27me3', 'DNA methyaltion'].forEach((t, i) =>
        addText(t, 42, s.labs[i], i % 2 ? '' : 'color:#cc0000;'));
    addText('TE', 42, s.te);
    if (s.gene) addText('Gene', 42, s.gene);
});
</script>
</body>
</html>
